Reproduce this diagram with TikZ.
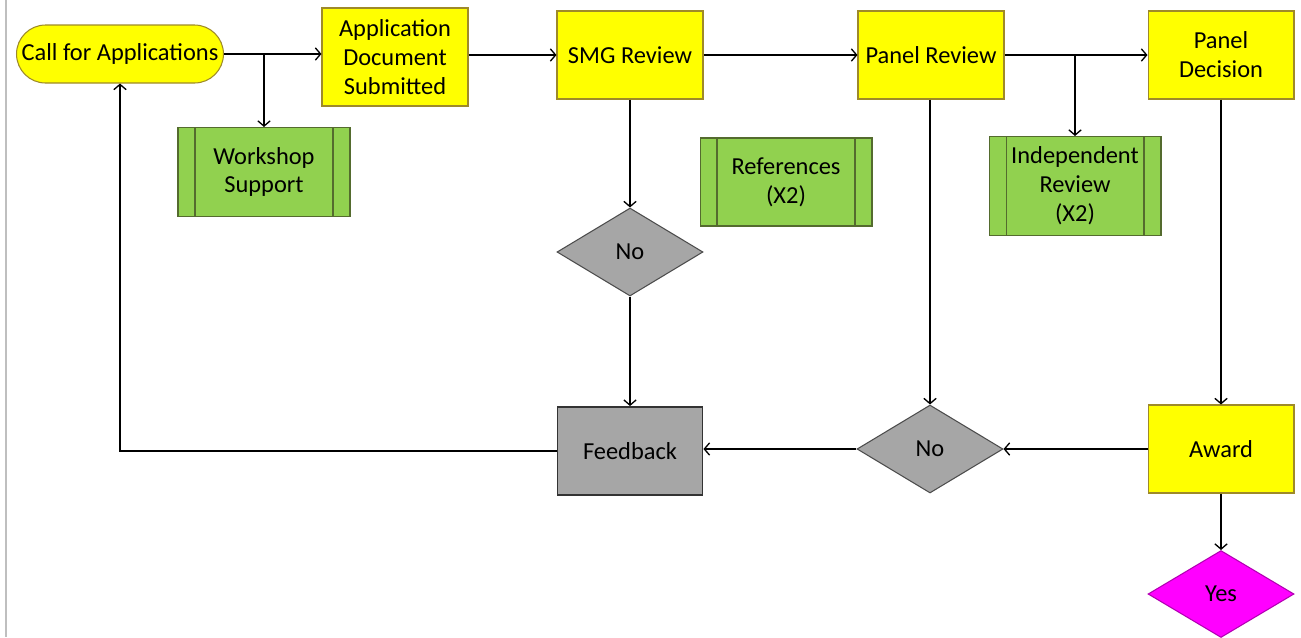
\documentclass[tikz,border=0pt]{standalone}
\usepackage{fontspec}
\setmainfont{Carlito}
\usetikzlibrary{shapes.geometric, arrows.meta}

\definecolor{ffffqq}{rgb}{1, 1, 0}
\definecolor{ttddqq}{rgb}{0.62, 0.54, 0.16}
\definecolor{zzddqq}{rgb}{0.57, 0.82, 0.31}
\definecolor{qqttqq}{rgb}{0.33, 0.42, 0.18}
\definecolor{aaaaaa}{rgb}{0.65, 0.65, 0.65}
\definecolor{ffqqff}{rgb}{1, 0, 1}
\definecolor{ccqqcc}{rgb}{0.7, 0, 0.7}

\tikzset{
  yellowbox/.style={draw=ttddqq, fill=ffffqq, line width=0.6pt, minimum width=2.92cm, minimum height=1.76cm, align=center, inner sep=0pt},
  greenbox/.style={draw=qqttqq, fill=zzddqq, line width=0.6pt, minimum width=3.44cm, minimum height=1.76cm, align=center, inner sep=0pt,
    path picture={
      \draw[qqttqq, line width=0.6pt] ([xshift=0.34cm]path picture bounding box.north west) -- ([xshift=0.34cm]path picture bounding box.south west);
      \draw[qqttqq, line width=0.6pt] ([xshift=-0.34cm]path picture bounding box.north east) -- ([xshift=-0.34cm]path picture bounding box.south east);
    }},
  graydiamond/.style={diamond, draw=black!70, fill=aaaaaa, line width=0.6pt, minimum width=2.92cm, minimum height=1.76cm, inner sep=0pt},
  flow/.style={-{Straight Barb[length=3pt, width=7pt]}, line width=0.75pt}
}

\begin{document}
\begin{tikzpicture}[x=0.02cm, y=-0.02cm, font=\fontsize{13.9}{16.4}\selectfont]
        \useasboundingbox (0, 0) rectangle (1301, 637);
        \draw[color=black!25, line width=0.8pt] (6, 0) -- (6, 637); % borde

        % fila superior
        \node[draw=ttddqq, fill=ffffqq, line width=0.6pt, rounded corners=0.58cm, minimum width=4.14cm, minimum height=1.16cm, inner sep=0pt] (call) at (120, 54) {Call for Applications};
        \node[yellowbox, minimum height=1.96cm] (appdoc) at (395, 57) {Application\\Document\\Submitted};
        \node[yellowbox] (smg) at (630, 55) {SMG Review};
        \node[yellowbox] (panelrev) at (931, 55) {Panel Review};
        \node[yellowbox] (paneldec) at (1221, 55) {Panel\\Decision};

        % procesos
        \node[greenbox, minimum height=1.78cm] (workshop) at (264, 172) {Workshop\\Support};
        \node[greenbox] (refs) at (786, 182) {References\\(X2)};
        \node[greenbox, minimum height=1.98cm] (indep) at (1075, 186) {Independent\\Review\\(X2)};

        % decisiones
        \node[graydiamond] (nosmg) at (630, 252) {No};
        \node[graydiamond] (nopanel) at (930, 449) {No};
        \node[diamond, draw=ccqqcc, fill=ffqqff, line width=0.6pt, minimum width=2.92cm, minimum height=1.74cm, inner sep=0pt] (yes) at (1221, 594) {Yes};

        % fila inferior
        \node[draw=black!80, fill=aaaaaa, line width=1.1pt, minimum width=2.9cm, minimum height=1.76cm, inner sep=0pt] (feedback) at (630, 451) {Feedback};
        \node[yellowbox] (award) at (1221, 449) {Award};

        % conectores
        \draw[flow] (call.east) -- (call.east -| appdoc.west);
        \draw[flow] (call.east -| workshop.north) -- (workshop.north);
        \draw[flow] (smg.west -| appdoc.east) -- (smg.west);
        \draw[flow] (smg.east) -- (panelrev.west);
        \draw[flow] (panelrev.east) -- (paneldec.west);
        \draw[flow] (panelrev.east -| indep.north) -- (indep.north);
        \draw[flow] (smg.south) -- (nosmg.north);
        \draw[flow] (nosmg.south) -- (feedback.north);
        \draw[flow] (panelrev.south -| nopanel.north) -- (nopanel.north);
        \draw[flow] (paneldec.south) -- (award.north);
        \draw[flow] (award.south) -- (yes.north);
        \draw[flow] (award.west) -- (nopanel.east);
        \draw[flow] (nopanel.west) -- (nopanel.west -| feedback.east);
        \draw[flow] (feedback.west) -| (call.south);
\end{tikzpicture}
\end{document}
